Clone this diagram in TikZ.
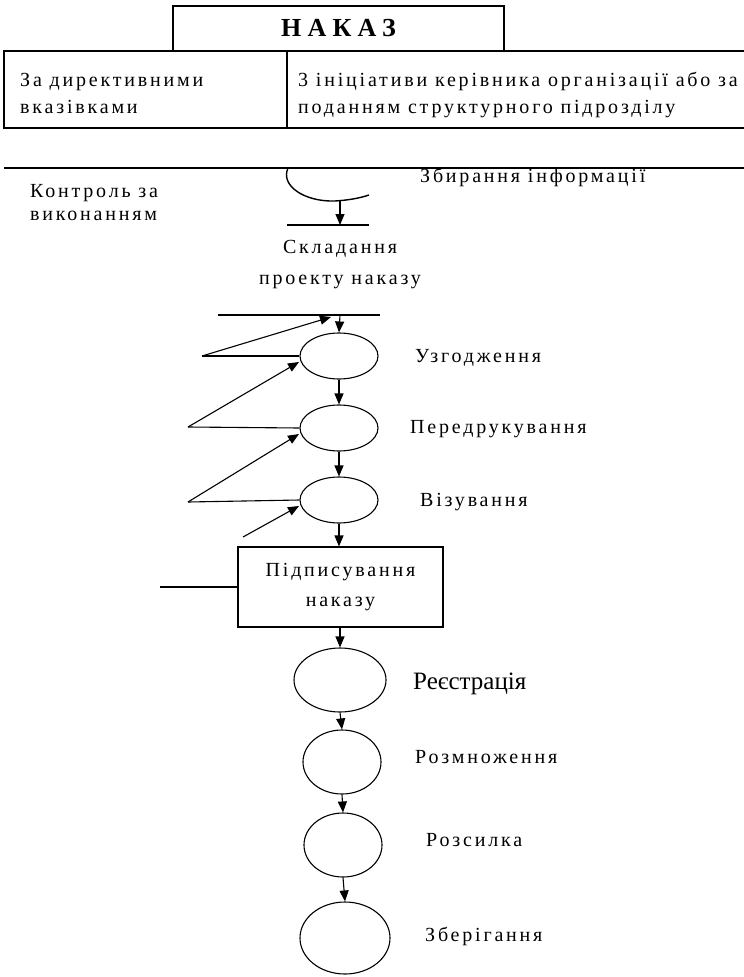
\documentclass[tikz,border=0pt]{standalone}
\usepackage{fontspec}
\setmainfont{Liberation Serif}
\newfontfamily\spaced[LetterSpace=14]{Liberation Serif}
\newfontfamily\nakazfont[LetterSpace=24]{Liberation Serif}
\usetikzlibrary{shapes.geometric,arrows.meta}
\begin{document}
\begin{tikzpicture}[x=1pt,y=-1pt,
  ln/.style={line width=1.1pt},
  arr/.style={ln,-{Triangle[length=11pt,width=9pt]}},
  oval/.style={draw,ellipse,line width=1.1pt,inner sep=0pt},
  txt/.style={font=\spaced\fontsize{20}{24}\selectfont,inner sep=0pt,anchor=base west},
  ctxt/.style={txt,anchor=base}]
\useasboundingbox (0,0) rectangle (744,977);
% header
\node[draw,line width=1.1pt,minimum width=331pt,minimum height=45pt,inner sep=0pt,
      font=\nakazfont\bfseries\fontsize{26}{30}\selectfont] (nakaz) at (338.5,28.5) {НАКАЗ};
\coordinate (tl) at (4,51); \coordinate (tr) at (744,51);
\coordinate (bl) at (4,128); \coordinate (br) at (744,128);
\coordinate (dt) at (287,51); \coordinate (db) at (287,128);
\draw[ln] (tr) -- (tl) -- (bl) -- (br);
\draw[ln] (dt) -- (db);
\node[txt] (c1a) at (20,86) {За директивними};
\node[txt] (c1b) at (20,113) {вказівками};
\node[txt] (c2a) at (298,86) {3 ініціативи керівника організації або за};
\node[txt] (c2b) at (298,113) {поданням структурного підрозділу};
% long line
\coordinate (ll1) at (4,168); \coordinate (ll2) at (744,168);
\draw[ln] (ll1) -- (ll2);
\node[txt] (ctrl1) at (30,197) {Контроль за};
\node[txt] (ctrl2) at (30,220) {виконанням};
\node[txt] (zbir) at (420,182) {Збирання інформації};
\draw[line width=1.4pt] (288,168) .. controls (280,186) and (305,202) .. (335,201)
      .. controls (350,200) and (360,198) .. (369,195);
\coordinate (a0) at (340,201); \coordinate (a1) at (340,225);
\draw[arr] (a0) -- (a1);
\coordinate (sl1) at (287,225); \coordinate (sl2) at (369,225);
\draw[line width=1.6pt] (sl1) -- (sl2);
\node[ctxt] (skl1) at (340,253) {Складання};
\node[ctxt] (skl2) at (340,284) {проекту наказу};
% fan
\coordinate (f1) at (218,315); \coordinate (f2) at (380,315);
\draw[ln] (f1) -- (f2);
\coordinate (ftop) at (340,315);
\node[oval,minimum width=78pt,minimum height=46pt] (e1) at (339,356) {};
\node[oval,minimum width=78pt,minimum height=46pt] (e2) at (339,428) {};
\node[oval,minimum width=78pt,minimum height=46pt] (e3) at (339,500) {};
\node[draw,line width=1.1pt,minimum width=205pt,minimum height=80pt,inner sep=0pt,
      align=center,font=\spaced\fontsize{20}{30}\selectfont] (sign) at (340.5,587) {Підписування\\наказу};
\node[oval,minimum width=92pt,minimum height=64pt] (e4) at (340,680) {};
\node[oval,minimum width=78pt,minimum height=64pt] (e5) at (342,762) {};
\node[oval,minimum width=78pt,minimum height=64pt] (e6) at (343,845) {};
\node[oval,minimum width=90pt,minimum height=72pt] (e7) at (345,938) {};
\draw[arr] (ftop) -- (e1.north);
\coordinate (v1) at (202,356); \coordinate (v1t) at (331,317);
\coordinate (v2) at (188,427); \coordinate (v2t) at (299,362);
\coordinate (v3) at (188,502); \coordinate (v3t) at (299,434);
\coordinate (v4) at (243,537); \coordinate (v4t) at (299,506);
\draw[arr] (v1) -- (v1t); \draw[ln] (v1) -- (e1.west);
\draw[arr] (v2) -- (v2t); \draw[ln] (v2) -- (e2.west);
\draw[arr] (v3) -- (v3t); \draw[ln] (v3) -- (e3.west);
\draw[arr] (v4) -- (v4t);
\draw[arr] (e1.south) -- (e2.north);
\draw[arr] (e2.south) -- (e3.north);
\draw[arr] (e3.south) -- (e3.south |- sign.north);
\coordinate (s0) at (160,587);
\draw[ln] (s0) -- (sign.west);
\draw[arr] (sign.south -| e4.north) -- (e4.north);
\draw[arr] (e4.south) -- (e5.north);
\draw[arr] (e5.south) -- (e6.north);
\draw[arr] (e6.south) -- (e7.north);
% labels
\node[txt] (l1) at (415,362) {Узгодження};
\node[txt] (l2) at (410,433) {Передрукування};
\node[txt] (l3) at (420,506) {Візування};
\node[inner sep=0pt,anchor=base west,font=\rmfamily\fontsize{25}{29}\selectfont] (l4) at (413,689) {Реєстрація};
\node[txt] (l5) at (415,763) {Розмноження};
\node[txt] (l6) at (426,846) {Розсилка};
\node[txt] (l7) at (425,941) {Зберігання};
\end{tikzpicture}
\end{document}
